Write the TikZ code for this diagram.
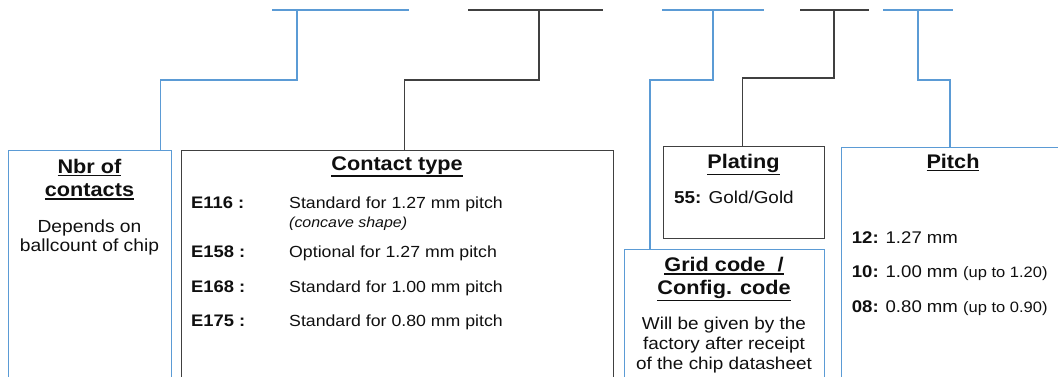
\documentclass[tikz,border=0pt]{standalone}
\usepackage{fontspec}
\setmainfont{Liberation Sans}[FakeStretch=1.1]
\usetikzlibrary{calc}
\definecolor{lblue}{RGB}{91,155,213}
\definecolor{dgray}{RGB}{64,64,64}
\definecolor{txt}{RGB}{15,15,15}
\newcommand\myul[1]{\leavevmode\vtop{\hbox{#1}\kern1.3pt\hrule height 1.5pt}}
\newcommand\ttlfont{\fontsize{19.7}{22}\bfseries\selectfont}
\tikzset{
  blueline/.style={draw=lblue, line width=1.3pt},
  grayline/.style={draw=dgray, line width=1.1pt},
  bluebox/.style={rectangle, draw=lblue, line width=1.3pt, inner sep=0, anchor=north west},
  graybox/.style={rectangle, draw=dgray, line width=1.1pt, inner sep=0, anchor=north west},
  ttl/.style={font=\ttlfont, text=txt, inner sep=0, anchor=base},
  txtc/.style={text=txt, inner sep=0, anchor=base},
  txtl/.style={text=txt, inner sep=0, anchor=base west},
}
\begin{document}
\begin{tikzpicture}[x=1pt,y=-1pt]
\useasboundingbox (0,0) rectangle (1058,376);
\clip (0,0) rectangle (1058,376);
% boxes
\node[bluebox, minimum width=163pt, minimum height=260pt] (nbr) at (8,150) {};
\node[graybox, minimum width=432pt, minimum height=260pt] (contact) at (181,149.5) {};
\node[graybox, minimum width=161pt, minimum height=92pt] (plating) at (663,146) {};
\node[bluebox, minimum width=200pt, minimum height=200pt] (grid) at (624,249) {};
\node[bluebox, minimum width=260pt, minimum height=260pt] (pitch) at (841,147) {};
% top bars
\coordinate (b1l) at (272,10); \coordinate (b1r) at (409,10); \coordinate (b1m) at (297,10);
\coordinate (b2l) at (468,10); \coordinate (b2r) at (603,10); \coordinate (b2m) at (539,10);
\coordinate (b3l) at (662,10); \coordinate (b3r) at (764,10); \coordinate (b3m) at (713,10);
\coordinate (b4l) at (800,10); \coordinate (b4r) at (869,10); \coordinate (b4m) at (834,10);
\coordinate (b5l) at (883,10); \coordinate (b5r) at (953,10); \coordinate (b5m) at (918,10);
\draw[blueline] (b1l) -- (b1r);
\draw[grayline] (b2l) -- (b2r);
\draw[blueline] (b3l) -- (b3r);
\draw[grayline] (b4l) -- (b4r);
\draw[blueline] (b5l) -- (b5r);
% connectors
\draw[blueline] (b1m) -- ++(0,70) -| ([xshift=-12pt]nbr.north east);
\draw[grayline] (b2m) -- ++(0,70) -| ([xshift=7pt]contact.north);
\draw[blueline] (b3m) -- ++(0,70) -| ([xshift=26pt]grid.north west);
\draw[grayline] (b4m) -- ++(0,68) -| ([xshift=-1.5pt]plating.north);
\draw[blueline] (b5m) -- ++(0,70) -| ([xshift=109pt]pitch.north west);
% Nbr of contacts
\node[ttl] (nbrT1) at (89.5,173.3) {\myul{Nbr of}};
\node[ttl] (nbrT2) at (89.5,196.7) {\myul{contacts}};
\node[txtc, font=\fontsize{17.5}{20}\selectfont] (nbrB1) at (89.5,232) {Depends on};
\node[txtc, font=\fontsize{17.5}{20}\selectfont] (nbrB2) at (89.5,251.7) {ballcount of chip};
% Contact type
\node[ttl] (conT) at (397,170) {\myul{Contact type}};
\node[txtl, font=\fontsize{16.7}{18}\bfseries\selectfont] (e116) at (191,208.3) {E116 :};
\node[txtl, font=\fontsize{16.1}{18}\selectfont] (d116) at (289,208.3) {Standard for 1.27 mm pitch};
\node[txtl, font=\fontsize{14.5}{16}\itshape\selectfont] (d116b) at (289,227) {(concave shape)};
\node[txtl, font=\fontsize{16.7}{18}\bfseries\selectfont] (e158) at (191,257.7) {E158 :};
\node[txtl, font=\fontsize{16.1}{18}\selectfont] (d158) at (289,257.7) {Optional for 1.27 mm pitch};
\node[txtl, font=\fontsize{16.7}{18}\bfseries\selectfont] (e168) at (191,292) {E168 :};
\node[txtl, font=\fontsize{16.1}{18}\selectfont] (d168) at (289,292) {Standard for 1.00 mm pitch};
\node[txtl, font=\fontsize{16.7}{18}\bfseries\selectfont] (e175) at (191,326.5) {E175 :};
\node[txtl, font=\fontsize{16.1}{18}\selectfont] (d175) at (289,326.5) {Standard for 0.80 mm pitch};
% Plating
\node[ttl] (plaT) at (743.5,168.3) {\myul{Plating}};
\node[txtl, font=\fontsize{17.2}{19}\selectfont] (pla55) at (674,203.3) {\textbf{55:} Gold/Gold};
% Grid code
\node[ttl] (griT1) at (724,271.7) {\myul{Grid code\ \ /}};
\node[ttl] (griT2) at (724,294.3) {\myul{Config. code}};
\node[txtc, font=\fontsize{17.2}{19}\selectfont] (griB1) at (724,329) {Will be given by the};
\node[txtc, font=\fontsize{17.2}{19}\selectfont] (griB2) at (724,349) {factory after receipt};
\node[txtc, font=\fontsize{17.2}{19}\selectfont] (griB3) at (724,369) {of the chip datasheet};
% Pitch
\node[ttl] (pitT) at (953,168.3) {\myul{Pitch}};
\node[txtl, font=\fontsize{16.9}{19}\selectfont] (p12) at (851.7,243.3) {\textbf{12:} 1.27 mm};
\node[txtl, font=\fontsize{16.9}{19}\selectfont] (p10) at (851.7,277.7) {\textbf{10:} 1.00 mm {\fontsize{15}{17}\selectfont (up to 1.20)}};
\node[txtl, font=\fontsize{16.9}{19}\selectfont] (p08) at (851.7,312) {\textbf{08:} 0.80 mm {\fontsize{15}{17}\selectfont (up to 0.90)}};
\end{tikzpicture}
\end{document}
